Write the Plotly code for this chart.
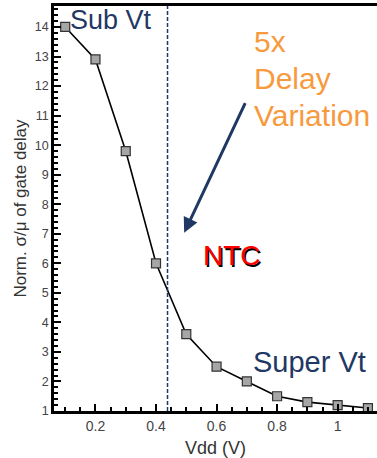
import plotly.graph_objects as go

vdd = [0.1, 0.2, 0.3, 0.4, 0.5, 0.6, 0.7, 0.8, 0.9, 1.0, 1.1]
norm_var = [14.0, 12.9, 9.8, 6.0, 3.6, 2.5, 2.0, 1.5, 1.3, 1.2, 1.1]
ntc_vdd = 0.438
x_ticks = [0.2, 0.4, 0.6, 0.8, 1.0]
x_tick_labels = ["0.2", "0.4", "0.6", "0.8", "1"]
y_ticks = list(range(1, 15))

navy = "#1f3864"
orange = "#f79a3e"
font_family = "Liberation Sans, Arial, sans-serif"

fig = go.Figure()
fig.add_trace(go.Scatter(
    x=vdd, y=norm_var, mode="lines+markers",
    line=dict(color="black", width=1.6),
    marker=dict(symbol="square", size=9, color="#a6a6a6",
                line=dict(color="#333333", width=1.2)),
    showlegend=False,
))

fig.add_shape(type="line", x0=ntc_vdd, x1=ntc_vdd, y0=0, y1=1,
              xref="x", yref="paper",
              line=dict(color=navy, width=1.5, dash="4px,2px"))

fig.add_annotation(x=0.11, y=14.24, xref="x", yref="y", text="Sub Vt",
                   showarrow=False, xanchor="left", yanchor="middle",
                   font=dict(family=font_family, size=27, color=navy))
for txt, yy in [("5x", 13.51), ("Delay", 12.25), ("Variation", 11.0)]:
    fig.add_annotation(x=0.718, y=yy, xref="x", yref="y", text=txt,
                       showarrow=False, xanchor="left", yanchor="middle",
                       font=dict(family=font_family, size=30, color=orange))
fig.add_annotation(x=0.493, y=7.03, ax=0.697, ay=11.47, xref="x", yref="y",
                   axref="x", ayref="y", text="", showarrow=True,
                   arrowhead=2, arrowsize=1.0, arrowwidth=3, arrowcolor=navy)
fig.add_annotation(x=0.548, y=6.25, xref="x", yref="y", text="NTC",
                   showarrow=False, xanchor="left", yanchor="middle",
                   font=dict(family=font_family, size=28, color="#ff0000",
                             shadow="1.5px 1.5px 0px black"))
fig.add_annotation(x=0.715, y=2.66, xref="x", yref="y", text="Super Vt",
                   showarrow=False, xanchor="left", yanchor="middle",
                   font=dict(family=font_family, size=29, color=navy))

fig.update_layout(
    width=377, height=458,
    margin=dict(l=54, r=0, t=6, b=47),
    paper_bgcolor="white", plot_bgcolor="white",
    font=dict(family=font_family, size=12, color="#333333"),
    xaxis=dict(range=[0.063, 1.13], tickvals=x_ticks, ticktext=x_tick_labels,
               ticks="inside", ticklen=7, tickwidth=1.5, tickcolor="black",
               tickfont=dict(size=14, color="#444444"),
               minor=dict(dtick=0.05, ticks="inside", ticklen=4, tickcolor="black"),
               showline=True, linecolor="black", linewidth=2.5, mirror=True,
               showgrid=False, zeroline=False,
               title=dict(text="Vdd (V)", font=dict(size=18, color="#333333"), standoff=12)),
    yaxis=dict(range=[1, 14.71], tickvals=y_ticks,
               ticks="inside", ticklen=7, tickwidth=1.5, tickcolor="black",
               tickfont=dict(size=12.5, color="#444444"),
               minor=dict(dtick=0.2, ticks="inside", ticklen=4, tickcolor="black"),
               showline=True, linecolor="black", linewidth=2.5,
               showgrid=False, zeroline=False,
               title=dict(text="Norm. σ/μ of gate delay", font=dict(size=17, color="#333333"), standoff=4)),
)

fig.write_html("out.html")
